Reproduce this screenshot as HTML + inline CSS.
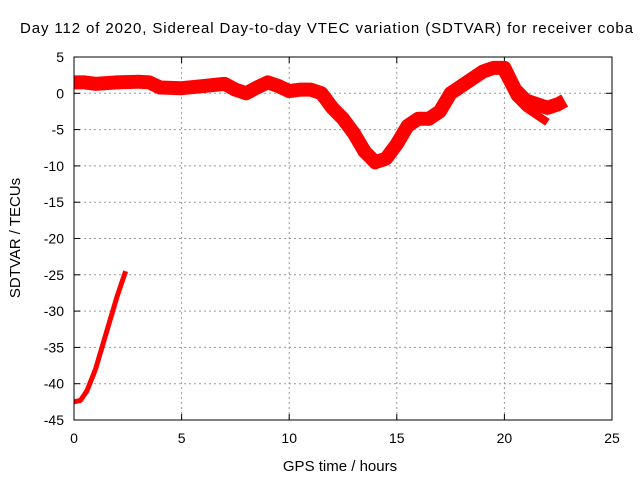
<!DOCTYPE html>
<html><head><meta charset="utf-8"><style>
body{margin:0;background:#fff}
svg{display:block;font-family:"Liberation Sans",sans-serif}
</style></head><body>
<svg id="chart" width="640" height="480">
<text x="20" y="33" font-size="15" textLength="613" lengthAdjust="spacing">Day 112 of 2020, Sidereal Day-to-day VTEC variation (SDTVAR) for receiver coba</text>
<text x="340" y="471" font-size="15" text-anchor="middle">GPS time / hours</text>
<text transform="translate(20,238) rotate(-90)" font-size="15" text-anchor="middle">SDTVAR / TECUs</text>
<g id="grid"></g><g id="series"></g>
<rect x="74" y="57" width="538" height="363" fill="none" stroke="#000" stroke-width="1"/>
</svg>
<script>
const xTicks=[0,5,10,15,20,25];
const yTicks=[5,0,-5,-10,-15,-20,-25,-30,-35,-40,-45];
const mainHours=[0,0.5,1,2,3,3.5,4,5,6,7,7.5,8,8.5,9,9.5,10,10.5,11,11.5,12,12.5,13,13.5,14,14.5,15,15.5,16,16.5,17,17.5,18,18.5,19,19.5,20,20.5,21,21.5,22,22.5,22.8];
const mainValues=[1.5,1.5,1.3,1.5,1.6,1.5,0.8,0.7,1.0,1.3,0.5,0,0.8,1.5,1.0,0.3,0.5,0.5,0,-2,-3.5,-5.5,-8,-9.5,-9,-7,-4.5,-3.5,-3.5,-2.5,0,1,2,3,3.5,3.5,0.5,-1,-1.5,-2,-1.5,-1];
const branchHours=[19.8,20.5,21,21.5,22];
const branchValues=[3.5,-0.5,-2,-3,-4];
const earlyHours=[0,0.3,0.6,1,1.5,2,2.4];
const earlyValues=[-42.5,-42.3,-41,-38,-33,-28,-24.5];
const X=t=>74+t*538/25, Y=v=>57+(5-v)*363/50;
const NS='http://www.w3.org/2000/svg';
const svg=document.getElementById('chart'),grid=document.getElementById('grid'),ser=document.getElementById('series');
function mk(tag,attrs,parent){const e=document.createElementNS(NS,tag);for(const k in attrs)e.setAttribute(k,attrs[k]);parent.appendChild(e);return e;}
xTicks.forEach(t=>{
 if(t>0&&t<25){const g=mk('line',{x1:X(t),x2:X(t),y1:57,y2:420,stroke:'#999','stroke-dasharray':'2,3'},grid);
 
 }
 mk('line',{x1:X(t),x2:X(t),y1:420,y2:414,stroke:'#000'},grid);
 mk('line',{x1:X(t),x2:X(t),y1:57,y2:63,stroke:'#000'},grid);
 const l=mk('text',{x:X(t),y:443,'font-size':14,'text-anchor':'middle'},grid);l.textContent=t;
 
 
});
yTicks.forEach(v=>{
 if(v<5&&v>-45){const g=mk('line',{x1:74,x2:612,y1:Y(v),y2:Y(v),stroke:'#999','stroke-dasharray':'2,3'},grid);
 
 }
 mk('line',{x1:74,x2:80,y1:Y(v),y2:Y(v),stroke:'#000'},grid);
 mk('line',{x1:606,x2:612,y1:Y(v),y2:Y(v),stroke:'#000'},grid);
 const l=mk('text',{x:64,y:Y(v)+5,'font-size':14,'text-anchor':'end'},grid);l.textContent=v;
 
 
});
function line(hs,vs,w,name){
 const p=mk('polyline',{points:hs.map((h,i)=>X(h)+','+Y(vs[i])).join(' '),fill:'none',stroke:'#f00','stroke-width':w,'stroke-linejoin':'round'},ser);
 
 
}
line(mainHours,mainValues,14,'main-series-band');
line(branchHours,branchValues,8,'branch-series');
line(earlyHours,earlyValues,5,'early-series');
</script>
</body></html>
